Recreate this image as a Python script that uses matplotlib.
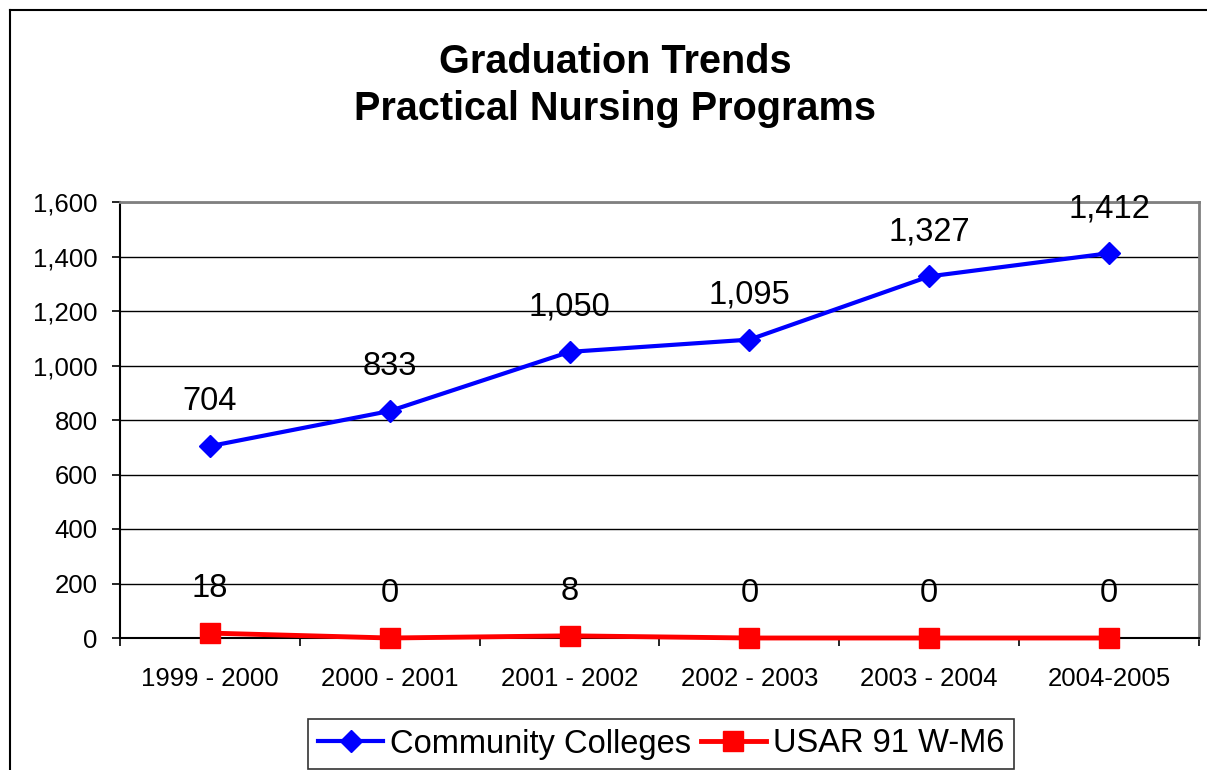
import matplotlib
matplotlib.use("Agg")
import matplotlib.pyplot as plt
from matplotlib.lines import Line2D
from matplotlib.ticker import FuncFormatter, FixedLocator

plt.rcParams['font.family'] = ['Liberation Sans', 'DejaVu Sans']

categories = ["1999 - 2000", "2000 - 2001", "2001 - 2002", "2002 - 2003", "2003 - 2004", "2004-2005"]
community = [704, 833, 1050, 1095, 1327, 1412]
usar = [18, 0, 8, 0, 0, 0]
series_names = ["Community Colleges", "USAR 91 W-M6"]
title_lines = ["Graduation Trends", "Practical Nursing Programs"]

W, H = 1207, 770
fig = plt.figure(figsize=(W / 100, H / 100), dpi=100)
ax = fig.add_axes([120 / W, 1 - 638 / H, (1199 - 120) / W, (638 - 202) / H])

x = list(range(len(categories)))
ax.plot(x, community, color='#0000FF', lw=3, marker='D', ms=11.5, mec='#0000FF',
        mfc='#0000FF', label=series_names[0], zorder=4, clip_on=False)
ax.plot(x, usar, color='#FF0000', lw=3.5, marker='s', ms=14, mec='#FF0000',
        mfc='#FF0000', label=series_names[1], zorder=4, clip_on=False)

for xi, v in zip(x, community):
    ax.annotate(f"{v:,}", (xi, v), xytext=(0, 32), textcoords='offset points',
                ha='center', va='center', fontsize=23.5, zorder=5)
for xi, v in zip(x, usar):
    ax.annotate(f"{v:,}", (xi, v), xytext=(0, 32), textcoords='offset points',
                ha='center', va='center', fontsize=23.5, zorder=5)

ax.set_xlim(-0.5, len(categories) - 0.5)
ax.set_ylim(0, 1600)
ax.yaxis.set_major_locator(FixedLocator(list(range(0, 1601, 200))))
ax.yaxis.set_major_formatter(FuncFormatter(lambda v, p: f"{int(v):,}"))
ax.set_xticks(x)
ax.set_xticklabels(categories)
ax.set_xticks([i - 0.5 for i in range(len(categories) + 1)], minor=True)
ax.tick_params(axis='x', which='major', length=0, pad=21, labelsize=18.5)
ax.tick_params(axis='x', which='minor', length=6, width=1.2, direction='out', color='black')
ax.tick_params(axis='y', which='major', length=6, width=1.2, direction='out', pad=10,
               labelsize=18.5, color='black')

ax.grid(axis='y', color='black', lw=1.0)
ax.set_axisbelow(True)
for s in ['left', 'bottom']:
    ax.spines[s].set_color('black')
    ax.spines[s].set_linewidth(1.5)
for s in ['top', 'right']:
    ax.spines[s].set_color('#808080')
    ax.spines[s].set_linewidth(2)

fig.text(615 / W, 1 - 62 / H, title_lines[0], ha='center', va='center',
         fontsize=28.5, fontweight='bold')
fig.text(615 / W, 1 - 109 / H, title_lines[1], ha='center', va='center',
         fontsize=28.5, fontweight='bold')

leg = fig.legend(loc='center', bbox_to_anchor=(661 / W, 1 - 744 / H), ncol=2,
                 fontsize=23.5, frameon=True, fancybox=False, edgecolor='black',
                 handlelength=2.0, handletextpad=0.2, columnspacing=0.3,
                 borderpad=0.3, borderaxespad=0)
leg.get_frame().set_linewidth(1.2)

# figure border (left and top visible)
fig.add_artist(Line2D([10 / W, 10 / W], [0, 1 - 10 / H], transform=fig.transFigure,
                      color='black', lw=1.5))
fig.add_artist(Line2D([10 / W, 1], [1 - 10 / H, 1 - 10 / H], transform=fig.transFigure,
                      color='black', lw=1.5))

fig.savefig("out.png", dpi=100)
